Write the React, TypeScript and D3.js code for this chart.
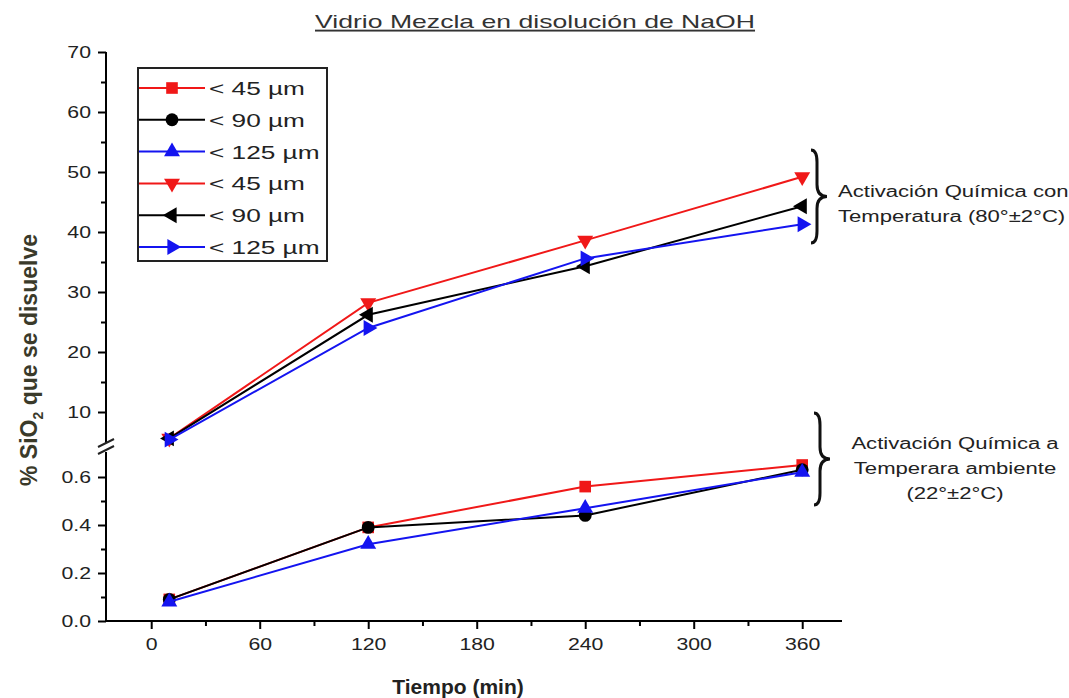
import * as d3 from "d3";
import { useEffect, useRef } from "react";

// tiempos de medida (min)
const tiempos = [10, 120, 240, 360];

// 80 ± 2 °C (tramo superior)
const caliente45 = [5.6, 28.2, 38.6, 49.2];
const caliente90 = [5.6, 26.2, 34.3, 44.3];
const caliente125 = [5.4, 24.0, 35.6, 41.3];

// 22 ± 2 °C (tramo inferior)
const ambiente45 = [0.09, 0.39, 0.56, 0.65];
const ambiente90 = [0.09, 0.39, 0.44, 0.63];
const ambiente125 = [0.08, 0.32, 0.47, 0.62];

const leyenda = ["< 45 \u00b5m", "< 90 \u00b5m", "< 125 \u00b5m", "< 45 \u00b5m", "< 90 \u00b5m", "< 125 \u00b5m"];

const xTicks = [0, 60, 120, 180, 240, 300, 360];
const yTicksSup = [10, 20, 30, 40, 50, 60, 70];
const yTicksInf = [0, 0.2, 0.4, 0.6];

const ROJO = "#f01818";
const NEGRO = "#000000";
const AZUL = "#1414f0";
const FUENTE = "'Liberation Sans', Arial, sans-serif";
// la imagen original esta estirada en horizontal
const SX = 1.32;

const App = () => {
    const ref = useRef<SVGSVGElement | null>(null);

    useEffect(() => {
        const svg = d3.select(ref.current);
        svg.selectAll("*").remove();

        const x = d3.scaleLinear().domain([-25, 382]).range([106, 842]);
        const ySup = d3.scaleLinear().domain([5, 70]).range([442, 52]);
        const yInf = d3.scaleLinear().domain([0, 0.7]).range([621, 453]);

        const tipos = [
            { sym: d3.symbolSquare, rot: 0, size: 135 },
            { sym: d3.symbolCircle, rot: 0, size: 130 },
            { sym: d3.symbolTriangle, rot: 0, size: 110 },
            { sym: d3.symbolTriangle, rot: 180, size: 110 },
            { sym: d3.symbolTriangle, rot: -90, size: 110 },
            { sym: d3.symbolTriangle, rot: 90, size: 110 },
        ];
        const colores = [ROJO, NEGRO, AZUL, ROJO, NEGRO, AZUL];

        const texto = (txt: string, xx: number, yy: number, size: number, anchor = "start", sx = SX) =>
            svg.append("text")
                .attr("transform", `translate(${xx},${yy}) scale(${sx},1)`)
                .attr("text-anchor", anchor)
                .style("font-family", FUENTE).style("font-size", `${size}px`)
                .style("fill", "#222")
                .text(txt);

        // titulo
        texto("Vidrio Mezcla en disolución de NaOH", 535, 28, 19, "middle", 1.4)
            .style("text-decoration", "underline").style("fill", "#333");

        // eje X
        const gx = svg.append("g")
            .attr("transform", "translate(0,621)")
            .call(d3.axisBottom(x).tickValues(xTicks).tickSize(8).tickSizeOuter(0).tickPadding(9));
        gx.select(".domain").attr("d", `M106,0H842`).attr("stroke-width", 2);
        gx.selectAll(".tick line").attr("stroke-width", 2);
        gx.selectAll(".tick text").attr("transform", "scale(1.25,1)")
            .style("font-family", FUENTE).style("font-size", "17px").style("fill", "#222");
        svg.append("g").attr("transform", "translate(0,621)")
            .call(d3.axisBottom(x).tickValues(d3.range(30, 361, 60)).tickSize(5).tickFormat(() => ""))
            .call(g => g.select(".domain").remove())
            .selectAll("line").attr("stroke-width", 2);

        const estiloY = (g: d3.Selection<SVGGElement, unknown, null, undefined>) => {
            g.selectAll(".tick line").attr("stroke-width", 2);
            g.selectAll(".tick text")
                .attr("x", -15 / 1.25)
                .attr("transform", "scale(1.25,1)")
                .style("font-family", FUENTE).style("font-size", "17px").style("fill", "#222");
        };

        // eje Y superior
        const gs = svg.append("g").attr("transform", "translate(106,0)")
            .call(d3.axisLeft(ySup).tickValues(yTicksSup).tickSize(8).tickSizeOuter(0));
        gs.select(".domain").attr("d", "M0,52V443").attr("stroke-width", 2);
        estiloY(gs);
        svg.append("g").attr("transform", "translate(106,0)")
            .call(d3.axisLeft(ySup).tickValues(d3.range(15, 70, 10)).tickSize(5).tickFormat(() => ""))
            .call(g => g.select(".domain").remove())
            .selectAll("line").attr("stroke-width", 2);

        // eje Y inferior
        const gi = svg.append("g").attr("transform", "translate(106,0)")
            .call(d3.axisLeft(yInf).tickValues(yTicksInf).tickSize(8).tickSizeOuter(0).tickFormat(d3.format(".1f")));
        gi.select(".domain").attr("d", "M0,452V621").attr("stroke-width", 2);
        estiloY(gi);
        svg.append("g").attr("transform", "translate(106,0)")
            .call(d3.axisLeft(yInf).tickValues([0.1, 0.3, 0.5]).tickSize(5).tickFormat(() => ""))
            .call(g => g.select(".domain").remove())
            .selectAll("line").attr("stroke-width", 2);

        // marcas de corte
        [443, 450].forEach(yy => {
            svg.append("line")
                .attr("x1", 98).attr("y1", yy + 4).attr("x2", 114).attr("y2", yy - 4)
                .attr("stroke", "#222").attr("stroke-width", 2);
        });

        // titulo eje Y
        const ty = svg.append("text")
            .attr("transform", "translate(37,360) rotate(-90)")
            .attr("text-anchor", "middle")
            .style("font-family", FUENTE).style("font-size", "23px")
            .style("font-weight", "bold")
            .style("fill", "#3a3a2a");
        ty.append("tspan").text("% SiO");
        ty.append("tspan").attr("dy", 6).style("font-size", "14px").text("2");
        ty.append("tspan").attr("dy", -6).text(" que se disuelve");

        // titulo eje X
        texto("Tiempo (min)", 458, 694, 20, "middle", 1.05).style("font-weight", "bold");

        // series
        const series = [
            { v: ambiente45, y: yInf, t: 0 },
            { v: ambiente90, y: yInf, t: 1 },
            { v: ambiente125, y: yInf, t: 2 },
            { v: caliente45, y: ySup, t: 3 },
            { v: caliente90, y: ySup, t: 4 },
            { v: caliente125, y: ySup, t: 5 },
        ];

        series.forEach(s => {
            const linea = d3.line<number>()
                .x((_, i) => x(tiempos[i]))
                .y(d => s.y(d));
            svg.append("path")
                .attr("d", linea(s.v))
                .attr("fill", "none")
                .attr("stroke", colores[s.t])
                .attr("stroke-width", 2);
            const tp = tipos[s.t];
            svg.selectAll(null)
                .data(s.v)
                .enter()
                .append("path")
                .attr("d", d3.symbol(tp.sym, tp.size)())
                .attr("transform", (d, i) => `translate(${x(tiempos[i])},${s.y(d)}) rotate(${tp.rot})`)
                .attr("fill", colores[s.t]);
        });

        // leyenda
        svg.append("rect")
            .attr("x", 138).attr("y", 68).attr("width", 189).attr("height", 193)
            .attr("fill", "white").attr("stroke", "#222").attr("stroke-width", 2);
        leyenda.forEach((txt, i) => {
            const yy = 88 + i * 31.8;
            svg.append("line")
                .attr("x1", 139).attr("x2", 205).attr("y1", yy).attr("y2", yy)
                .attr("stroke", colores[i]).attr("stroke-width", 2);
            const tp = tipos[i];
            svg.append("path")
                .attr("d", d3.symbol(tp.sym, tp.size)())
                .attr("transform", `translate(172,${yy}) rotate(${tp.rot})`)
                .attr("fill", colores[i]);
            texto(txt, 209, yy + 7, 19, "start", 1.38);
        });

        // llaves
        const llave = (x0: number, y0: number, y1: number) => {
            const ym = (y0 + y1) / 2;
            const d = `M${x0 - 6},${y0} Q${x0},${y0} ${x0},${y0 + 12} L${x0},${ym - 12} Q${x0},${ym} ${x0 + 10},${ym}`
                + ` Q${x0},${ym} ${x0},${ym + 12} L${x0},${y1 - 12} Q${x0},${y1} ${x0 - 6},${y1}`;
            svg.append("path").attr("d", d).attr("fill", "none").attr("stroke", "#111").attr("stroke-width", 3);
        };
        llave(817, 150, 243);
        llave(820, 413, 505);

        ["Activación Química con", "Temperatura (80°±2°C)"].forEach((l, i) => texto(l, 838, 197 + i * 25, 16, "start", 1.38));
        ["Activación Química a", "Temperara ambiente", "(22°±2°C)"].forEach((l, i) => texto(l, 955, 449 + i * 25, 16, "middle", 1.38));
    }, []);

    return (
        <div style={{ position: "absolute", left: 0, top: 0 }}>
            <svg ref={ref} width="1069" height="698" style={{ display: "block", background: "white" }}></svg>
        </div>
    );
};

export default App;
